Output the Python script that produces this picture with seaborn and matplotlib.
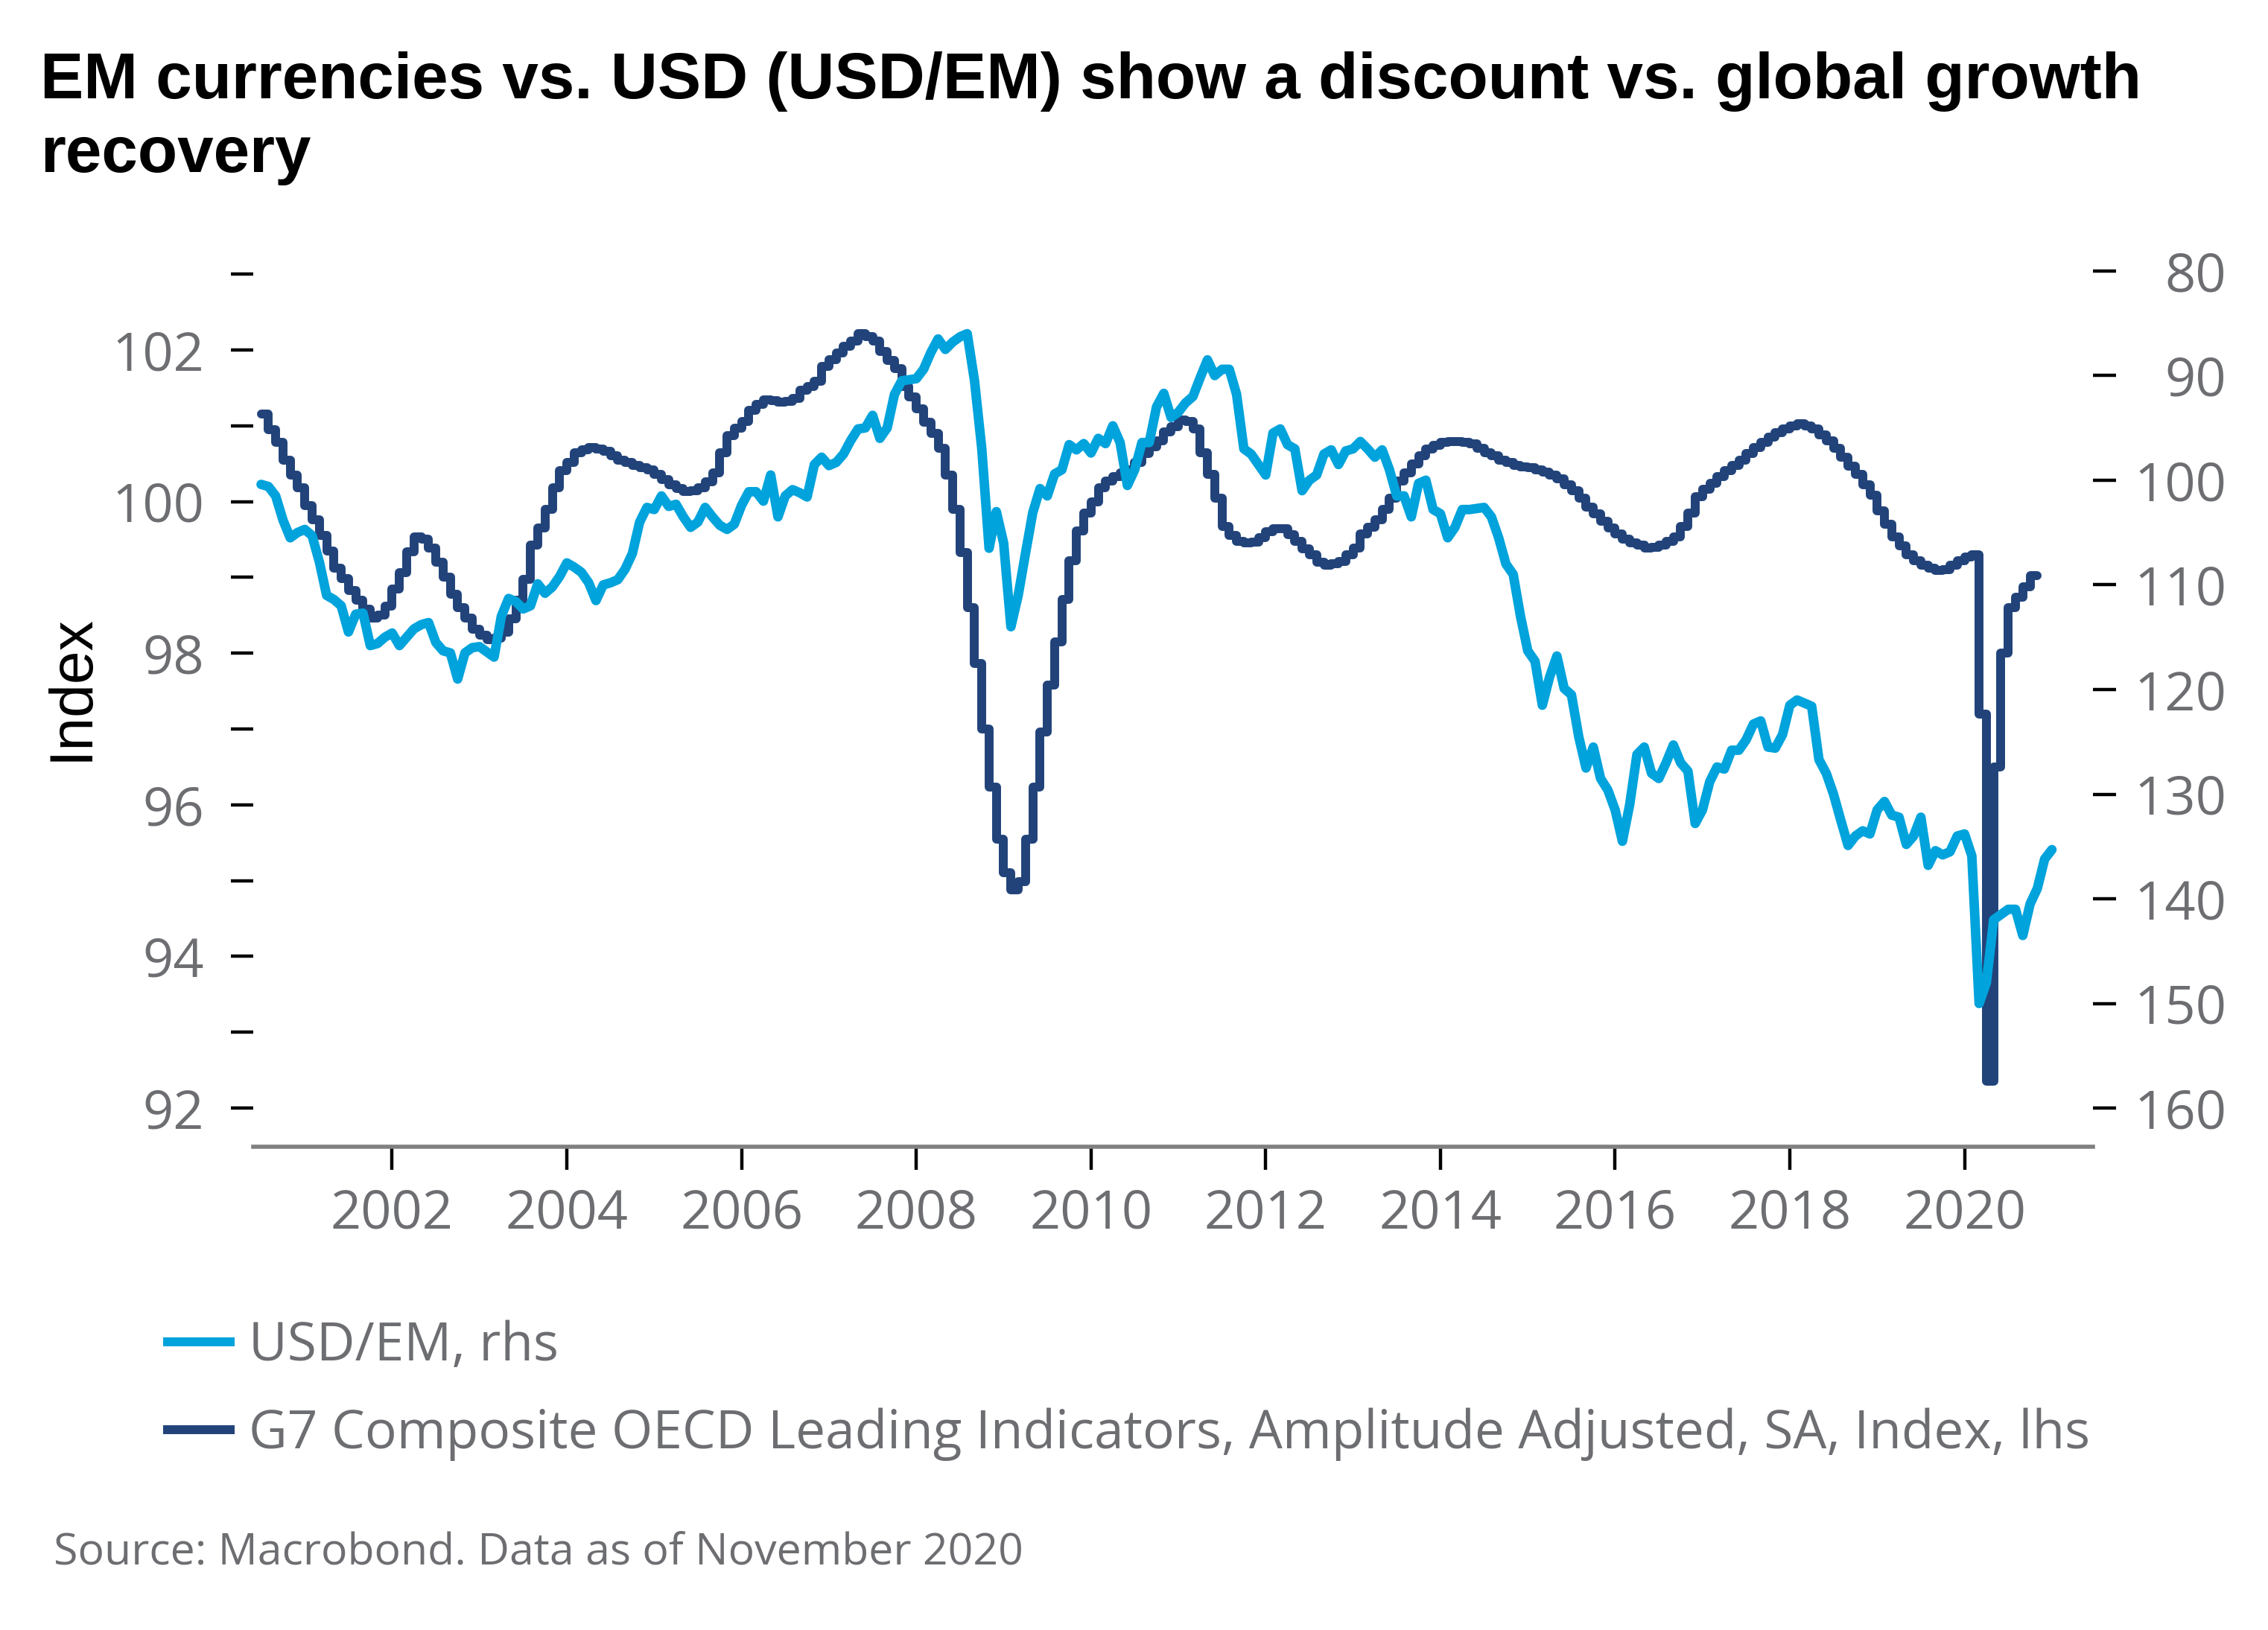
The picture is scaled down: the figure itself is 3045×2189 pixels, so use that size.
import numpy as np
import pandas as pd
import matplotlib
matplotlib.use("Agg")
import matplotlib.pyplot as plt
from matplotlib.lines import Line2D
import seaborn as sns

# ---------------- data ----------------
start_year = 2000
start_month = 7  # first observation: July 2000 (monthly)

# G7 Composite OECD Leading Indicators (lhs), monthly Jul-2000 .. Oct-2020
g7_cli = [
    101.15, 100.95, 100.78, 100.55, 100.35, 100.18,
    99.95, 99.76, 99.55, 99.35, 99.12, 98.98, 98.83, 98.70, 98.58, 98.46, 98.50, 98.62,
    98.85, 99.06, 99.34, 99.53, 99.50, 99.39, 99.20, 99.00, 98.78, 98.60, 98.46, 98.32,
    98.24, 98.18, 98.20, 98.28, 98.45, 98.70, 98.97, 99.43, 99.65, 99.90, 100.18, 100.41,
    100.52, 100.64, 100.68, 100.71, 100.69, 100.66, 100.60, 100.55, 100.52, 100.48, 100.45, 100.42,
    100.36, 100.29, 100.22, 100.17, 100.13, 100.14, 100.18, 100.26, 100.38, 100.64, 100.87, 100.97,
    101.06, 101.20, 101.28, 101.34, 101.33, 101.31, 101.32, 101.36, 101.47, 101.52, 101.59, 101.78,
    101.87, 101.96, 102.05, 102.12, 102.22, 102.18, 102.12, 101.98, 101.86, 101.75, 101.52, 101.38,
    101.22, 101.05, 100.90, 100.70, 100.35, 99.90, 99.33, 98.60, 97.86, 97.00, 96.23, 95.55,
    95.10, 94.88, 94.99, 95.55, 96.23, 96.96, 97.58, 98.15, 98.71, 99.22, 99.61, 99.85,
    100.00, 100.18, 100.27, 100.33, 100.38, 100.42, 100.52, 100.63, 100.72, 100.80, 100.92, 100.99,
    101.08, 101.06, 100.96, 100.64, 100.36, 100.04, 99.67, 99.55, 99.48, 99.46, 99.47, 99.52,
    99.60, 99.64, 99.64, 99.56, 99.48, 99.38, 99.30, 99.20, 99.16, 99.18, 99.21, 99.30,
    99.39, 99.57, 99.66, 99.76, 99.90, 100.04, 100.27, 100.38, 100.50, 100.60, 100.69, 100.74,
    100.78, 100.79, 100.79, 100.78, 100.76, 100.70, 100.64, 100.60, 100.55, 100.52, 100.48, 100.46,
    100.45, 100.42, 100.39, 100.35, 100.30, 100.22, 100.14, 100.04, 99.93, 99.84, 99.74, 99.65,
    99.57, 99.50, 99.46, 99.43, 99.39, 99.40, 99.43, 99.48, 99.53, 99.67, 99.85, 100.06,
    100.16, 100.24, 100.33, 100.41, 100.48, 100.55, 100.63, 100.71, 100.78, 100.85, 100.91, 100.96,
    101.00, 101.03, 101.00, 100.96, 100.88, 100.80, 100.70, 100.59, 100.47, 100.36, 100.22, 100.08,
    99.88, 99.70, 99.53, 99.42, 99.30, 99.22, 99.16, 99.12, 99.09, 99.10, 99.16, 99.22,
    99.27, 99.30, 97.20, 92.35, 96.50, 98.00, 98.60, 98.74, 98.88, 99.02,
]

# USD/EM (rhs, inverted), monthly Jul-2000 .. Jan-2021
usd_em = [
    100.4, 100.6, 101.5, 103.8, 105.5, 105.0,
    104.7, 105.3, 107.8, 111.0, 111.4, 112.0, 114.5, 112.8, 112.7, 115.8, 115.6, 115.0,
    114.6, 115.8, 115.0, 114.2, 113.8, 113.6, 115.5, 116.3, 116.5, 119.0, 116.5, 116.0,
    115.9, 116.4, 116.9, 113.0, 111.3, 111.6, 112.3, 112.0, 109.9, 110.8, 110.2, 109.2,
    107.9, 108.3, 108.8, 109.8, 111.5, 110.0, 109.8, 109.5, 108.5, 107.0, 104.0, 102.6,
    102.8, 101.5, 102.5, 102.3, 103.5, 104.5, 104.0, 102.6, 103.5, 104.3, 104.7, 104.2,
    102.4, 101.1, 101.1, 102.0, 99.5, 103.5, 101.5, 100.9, 101.2, 101.6, 98.5, 97.8,
    98.6, 98.3, 97.5, 96.2, 95.1, 95.0, 93.8, 96.0, 95.0, 91.8, 90.5, 90.4,
    90.3, 89.4, 87.8, 86.5, 87.5, 86.8, 86.3, 86.0, 90.5, 97.0, 106.5, 103.0,
    106.0, 114.0, 111.0, 107.0, 103.1, 100.8, 101.5, 99.4, 99.0, 96.6, 97.1, 96.5,
    97.4, 96.0, 96.5, 94.8, 96.4, 100.5, 99.0, 96.4, 96.4, 93.0, 91.7, 94.0,
    93.5, 92.6, 92.0, 90.2, 88.5, 90.0, 89.4, 89.4, 91.8, 97.0, 97.5, 98.5,
    99.5, 95.5, 95.1, 96.6, 97.0, 101.0, 100.0, 99.5, 97.5, 97.1, 98.5, 97.2,
    97.0, 96.3, 97.0, 97.8, 97.1, 99.0, 101.5, 101.5, 103.5, 100.3, 100.0, 102.8,
    103.2, 105.5, 104.5, 102.8, 102.8, 102.7, 102.6, 103.5, 105.5, 108.0, 109.0, 113.0,
    116.3, 117.3, 121.5, 118.8, 116.8, 119.9, 120.5, 124.5, 127.5, 125.5, 128.5, 129.6,
    131.5, 134.5, 131.0, 126.2, 125.5, 128.0, 128.5, 127.0, 125.3, 127.0, 127.8, 132.8,
    131.5, 128.8, 127.4, 127.6, 125.8, 125.8, 124.8, 123.3, 123.0, 125.5, 125.6, 124.3,
    121.5, 121.0, 121.3, 121.6, 126.7, 128.0, 130.0, 132.5, 134.9, 134.0, 133.5, 133.8,
    131.5, 130.7, 132.0, 132.2, 134.8, 134.0, 132.2, 136.8, 135.4, 135.8, 135.5, 134.0,
    133.8, 135.9, 150.0, 148.0, 142.0, 141.5, 141.0, 141.0, 143.5, 140.5, 139.0, 136.2,
    135.3,
]

left_ticks = [92, 94, 96, 98, 100, 102]
left_minor_ticks = [93, 95, 97, 99, 101, 103]
right_ticks = [80, 90, 100, 110, 120, 130, 140, 150, 160]
year_ticks = [2002, 2004, 2006, 2008, 2010, 2012, 2014, 2016, 2018, 2020]

title_lines = ["EM currencies vs. USD (USD/EM) show a discount vs. global growth", "recovery"]
y_label = "Index"
legend_labels = ["USD/EM, rhs",
                 "G7 Composite OECD Leading Indicators, Amplitude Adjusted, SA, Index, lhs"]
source_text = "Source: Macrobond. Data as of November 2020"

# ---------------- style ----------------
LIGHT = "#00A3DC"
DARK = "#21437A"
GRAY = "#6D6E71"
SPINE = "#808080"

sns.set_theme(style="white")
plt.rcParams["font.family"] = ["Open Sans", "DejaVu Sans"]

W, H, DPI = 3045, 2189, 200
fig = plt.figure(figsize=(W / DPI, H / DPI), dpi=DPI)

def fx(px):
    return px / W

def fy(px):
    return 1 - px / H

ax_left, ax_right, ax_top, ax_bot = 340, 2810, 347.8, 1539.6
ax = fig.add_axes([fx(ax_left), fy(ax_bot), fx(ax_right - ax_left), (ax_bot - ax_top) / H])
ax2 = ax.twinx()

t0 = start_year + (start_month - 1) / 12
t_dark = t0 + np.arange(len(g7_cli)) / 12
df_dark = pd.DataFrame({"t": np.append(t_dark, t_dark[-1] + 1 / 12),
                        "v": list(g7_cli) + [g7_cli[-1]]})
t_light = t0 + np.arange(len(usd_em)) / 12
df_light = pd.DataFrame({"t": t_light, "v": usd_em})

sns.lineplot(data=df_dark, x="t", y="v", ax=ax, color=DARK, linewidth=4.3,
             drawstyle="steps-post", estimator=None, legend=False)
sns.lineplot(data=df_light, x="t", y="v", ax=ax2, color=LIGHT, linewidth=4.6,
             estimator=None, legend=False)

ax.set_xlim(2000.41, 2021.47)
ax.set_ylim(91.493, 103.2)
ax2.set_ylim(163.66, 78.86)

tick_fs = 26
ax.set_yticks(left_ticks)
ax.set_yticklabels([str(v) for v in left_ticks])
ax.set_yticks(left_minor_ticks, minor=True)
ax.tick_params(axis="y", which="both", direction="out", length=10.8, width=1.6,
               color="black", pad=13, labelsize=tick_fs, labelcolor=GRAY, left=True)
ax.tick_params(axis="y", which="minor", labelleft=False)

ax2.set_yticks(right_ticks)
ax2.set_yticklabels([str(v) for v in right_ticks])
ax2.tick_params(axis="y", direction="out", length=11, width=1.6, color="black",
                pad=53.5, labelsize=tick_fs, labelcolor=GRAY, right=True)
for lbl in ax2.get_yticklabels():
    lbl.set_horizontalalignment("right")

ax.set_xticks(year_ticks)
ax.set_xticklabels([str(y) for y in year_ticks])
ax.tick_params(axis="x", direction="out", length=11, width=1.6, color="black",
               pad=9, labelsize=tick_fs, labelcolor=GRAY, bottom=True)

for a in (ax, ax2):
    a.grid(False)
    a.set_xlabel("")
    a.set_ylabel("")
    for s in ("top", "left", "right"):
        a.spines[s].set_visible(False)
ax2.spines["bottom"].set_visible(False)
ax.spines["bottom"].set_color(SPINE)
ax.spines["bottom"].set_linewidth(2.0)
ax.patch.set_visible(False)

# title
title_family = ["Liberation Sans", "DejaVu Sans"]
fig.text(fx(54), fy(132), title_lines[0], family=title_family,
         weight="bold", fontsize=31.4, color="black", va="baseline", ha="left")
fig.text(fx(54), fy(231), title_lines[1], family=title_family,
         weight="bold", fontsize=31.4, color="black", va="baseline", ha="left")

# y label
fig.text(fx(96.5), fy(924), y_label, family=title_family,
         fontsize=29, rotation=90, ha="center", va="center", color="black")

# legend
handles = [Line2D([0], [0], color=LIGHT, lw=4.3, solid_capstyle="butt"),
           Line2D([0], [0], color=DARK, lw=4.3, solid_capstyle="butt")]
fig.legend(handles, legend_labels, loc="upper left", bbox_to_anchor=(fx(219), fy(1772)),
           frameon=False, borderaxespad=0, borderpad=0, handlelength=1.35,
           handletextpad=0.27, labelspacing=0.66, fontsize=25.6, labelcolor=GRAY)

# source
fig.text(fx(72), fy(2102), source_text, fontsize=21.25, color=GRAY, va="baseline", ha="left")

fig.savefig("out.png", dpi=DPI)
